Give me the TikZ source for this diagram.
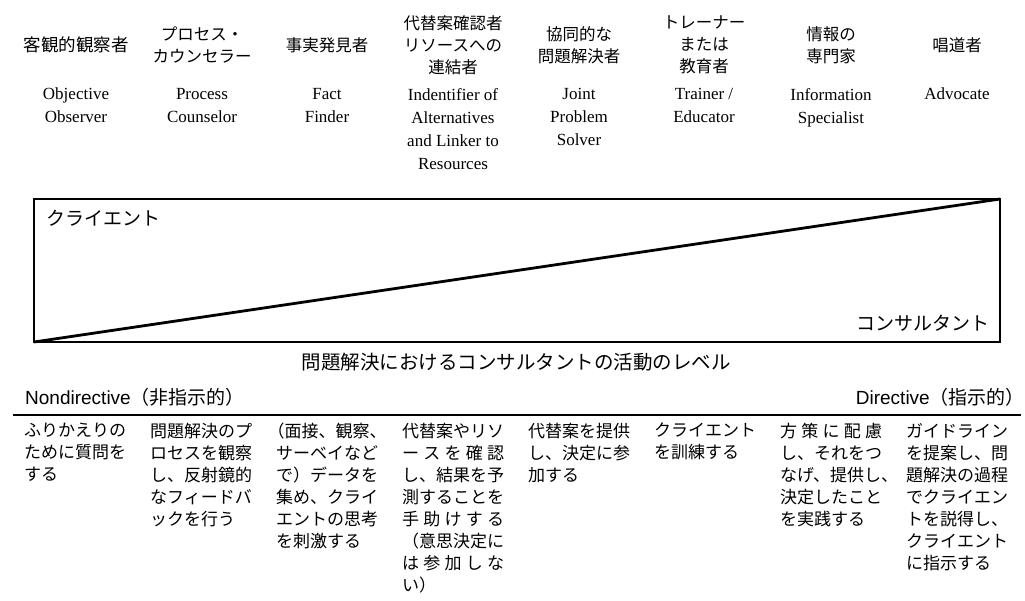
\documentclass[tikz,border=0pt]{standalone}
\usepackage{fontspec}
\setmainfont{Liberation Serif}
\setsansfont{Liberation Sans}
\newfontfamily\jpfont{Noto Sans CJK JP}
\newcommand{\spreadline}[1]{\makebox[6em][s]{#1}}

\begin{document}
\begin{tikzpicture}[x=1pt, y=-1pt,
    role/.style={align=center, inner sep=0pt, font=\jpfont\fontsize{16.5}{22}\selectfont},
    roleen/.style={align=center, anchor=north, inner sep=0pt, font=\fontsize{17}{23}\selectfont},
    act/.style={align=left, anchor=north west, inner sep=0pt, font=\jpfont\fontsize{17}{22}\selectfont},
    tag/.style={inner sep=0pt, font=\jpfont\fontsize{19}{20}\selectfont},
    pole/.style={inner sep=0pt, font=\sffamily\fontsize{19}{20}\selectfont},
    frame/.style={line width=2.8pt}]
    \useasboundingbox (0,0) rectangle (1025,600);
    %
    \draw
    (76,45)node(obs)[role, font=\jpfont\fontsize{17.5}{22}\selectfont]{客観的観察者}
    (202,45)node(proc)[role]{プロセス・\\カウンセラー}
    (327,45)node(fact)[role]{事実発見者}
    (453,45)node(link)[role]{代替案確認者\\リソースへの\\連結者}
    (579,45)node(joint)[role]{協同的な\\問題解決者}
    (704,45)node(train)[role]{トレーナー\\または\\教育者}
    (831,45)node(info)[role]{情報の\\専門家}
    (957,45)node(advo)[role]{唱道者};
    %
    \draw
    (76,88)node(obsen)[roleen]{Objective\\Observer}
    (202,88)node(procen)[roleen]{Process\\Counselor}
    (327,88)node(facten)[roleen]{Fact\\Finder}
    (453,88)node(linken)[roleen]{Indentifier of\\Alternatives\\and Linker to\\Resources}
    (579,88)node(jointen)[roleen]{Joint\\Problem\\Solver}
    (704,88)node(trainen)[roleen]{Trainer /\\Educator}
    (831,88)node(infoen)[roleen]{Information\\Specialist}
    (957,88)node(advoen)[roleen]{Advocate};
    %
    \coordinate (bl) at (34,342);
    \coordinate (tr) at (1000,199);
    \draw[frame] (bl) rectangle (tr);
    \draw[frame] (bl) -- (tr);
    \node(client)[tag, anchor=west] at (46,218) {クライエント};
    \node(consult)[tag, anchor=east] at (990,323) {コンサルタント};
    \node(level)[tag, font=\jpfont\fontsize{19.5}{20}\selectfont] at (516,362) {問題解決におけるコンサルタントの活動のレベル};
    %
    \node(nondir)[pole, anchor=west] at (25,397) {Nondirective\jpfont（非指示的）};
    \node(dir)[pole, anchor=east] at (1025,397) {Directive\jpfont（指示的）};
    \coordinate (ruleL) at (13,415);
    \coordinate (ruleR) at (1021,415);
    \draw[line width=2.5pt] (ruleL) -- (ruleR);
    %
    \draw
    (24,423)node(obsact)[act]{ふりかえりの\\ために質問を\\する}
    (150,423)node(procact)[act]{問題解決のプ\\ロセスを観察\\し、反射鏡的\\なフィードバ\\ックを行う}
    (276,423)node(factact)[act]{\kern-0.5em（面接、観察、\\サーベイなど\\で）データを\\集め、クライ\\エントの思考\\を刺激する}
    (402,423)node(linkact)[act]{代替案やリソ\\\spreadline{ー ス を 確 認}\\し、結果を予\\測することを\\\spreadline{手 助 け す る}\\（意思決定に\\\spreadline{は 参 加 し な}\\い）}
    (528,423)node(jointact)[act]{代替案を提供\\し、決定に参\\加する}
    (654,423)node(trainact)[act]{クライエント\\を訓練する}
    (780,423)node(infoact)[act]{\spreadline{方 策 に 配 慮}\\し、それをつ\\なげ、提供し、\\決定したこと\\を実践する}
    (906,423)node(advoact)[act]{ガイドライン\\を提案し、問\\題解決の過程\\でクライエン\\トを説得し、\\クライエント\\に指示する};
\end{tikzpicture}
\end{document}
